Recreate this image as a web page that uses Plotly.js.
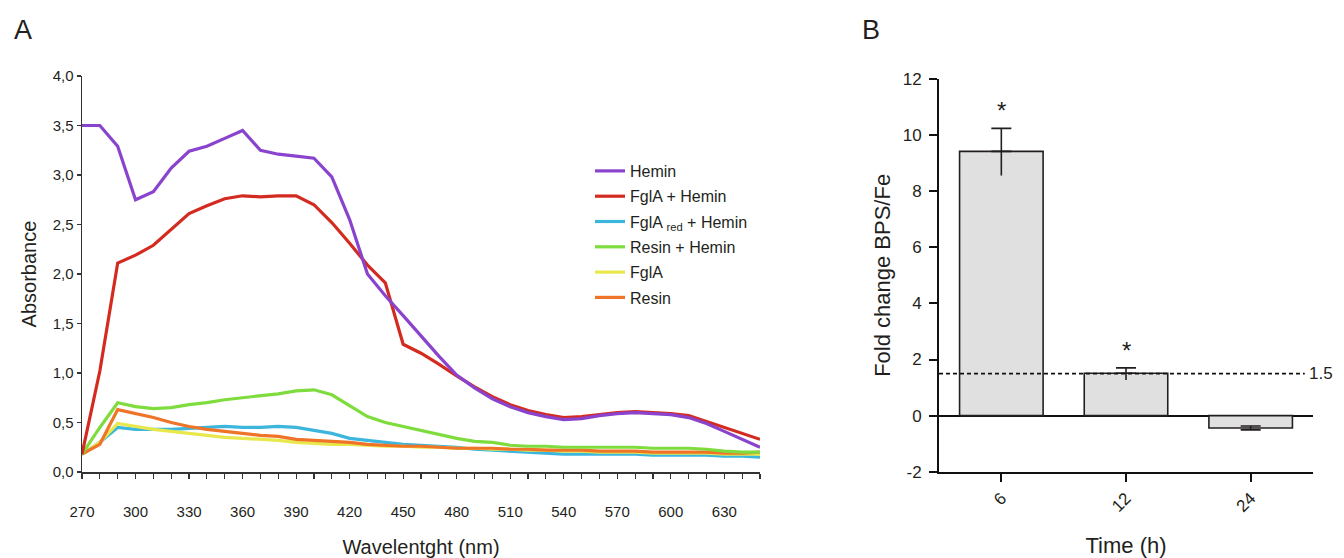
<!DOCTYPE html>
<html>
<head>
<meta charset="utf-8">
<script src="https://cdn.plot.ly/plotly-3.0.1.min.js"></script>
<style>html,body{margin:0;padding:0;background:#fff;}#chart{width:1344px;height:558px;}</style>
</head>
<body>
<div id="chart"></div>
<script>
// ---------- Panel A data ----------
const wavelength = [270,280,290,300,310,320,330,340,350,360,370,380,390,400,410,420,430,440,450,460,470,480,490,500,510,520,530,540,550,560,570,580,590,600,610,620,630,640,650];
const hemin      = [3.50,3.50,3.29,2.75,2.83,3.07,3.24,3.29,3.37,3.45,3.25,3.21,3.19,3.17,2.98,2.55,2.00,1.78,1.58,1.37,1.17,0.98,0.85,0.74,0.66,0.60,0.56,0.53,0.54,0.57,0.59,0.60,0.59,0.58,0.55,0.49,0.41,0.33,0.25];
const fglaHemin  = [0.18,1.02,2.11,2.19,2.29,2.45,2.61,2.69,2.76,2.79,2.78,2.79,2.79,2.70,2.52,2.31,2.09,1.91,1.29,1.20,1.09,0.97,0.86,0.76,0.68,0.62,0.58,0.55,0.56,0.58,0.60,0.61,0.60,0.59,0.57,0.51,0.45,0.39,0.33];
const fglaRedHemin = [0.18,0.30,0.45,0.43,0.43,0.43,0.44,0.45,0.46,0.45,0.45,0.46,0.45,0.42,0.39,0.34,0.32,0.30,0.28,0.27,0.26,0.25,0.23,0.22,0.21,0.20,0.19,0.18,0.18,0.18,0.18,0.18,0.17,0.17,0.17,0.17,0.16,0.16,0.15];
const resinHemin = [0.18,0.45,0.70,0.66,0.64,0.65,0.68,0.70,0.73,0.75,0.77,0.79,0.82,0.83,0.78,0.67,0.56,0.50,0.46,0.42,0.38,0.34,0.31,0.30,0.27,0.26,0.26,0.25,0.25,0.25,0.25,0.25,0.24,0.24,0.24,0.23,0.21,0.20,0.20];
const fgla       = [0.18,0.30,0.49,0.46,0.43,0.41,0.39,0.37,0.35,0.34,0.33,0.32,0.30,0.29,0.28,0.28,0.27,0.26,0.26,0.25,0.25,0.24,0.24,0.23,0.23,0.22,0.22,0.21,0.21,0.20,0.20,0.20,0.19,0.19,0.19,0.19,0.18,0.18,0.18];
const resin      = [0.18,0.28,0.63,0.59,0.55,0.50,0.46,0.43,0.41,0.39,0.37,0.36,0.33,0.32,0.31,0.30,0.28,0.27,0.26,0.26,0.25,0.24,0.24,0.24,0.23,0.23,0.22,0.22,0.22,0.21,0.21,0.21,0.20,0.20,0.20,0.20,0.19,0.19,0.20];
const seriesNames = ['Hemin','FglA + Hemin','FglA <sub>red</sub> + Hemin','Resin + Hemin','FglA','Resin'];

const xTickVals = [270,300,330,360,390,420,450,480,510,540,570,600,630];
const xTickText = ['270','300','330','360','390','420','450','480','510','540','570','600','630'];
const yTickVals = [0,0.5,1,1.5,2,2.5,3,3.5,4];
const yTickText = ['0,0','0,5','1,0','1,5','2,0','2,5','3,0','3,5','4,0'];

// ---------- Panel B data ----------
const times = ['6','12','24'];
const foldChange = [9.42,1.51,-0.44];
const errUpper = [0.82,0.19,0.07];
const errLowerStem = [0.86,0.24,0];
const errLowerCap = [0,0,0.07];
const significance = ['*','*',''];
const threshold = 1.5;
const yTickValsB = [-2,0,2,4,6,8,10,12];
const yTickTextB = ['-2','0','2','4','6','8','10','12'];

const FONT = 'Liberation Sans, Arial, Helvetica, sans-serif';
const TXT = '#231f20';

function line(y, name, color, rank){
  return {type:'scatter', mode:'lines', x: wavelength, y: y, name: name,
    line:{color: color, width: 3.2}, legendrank: rank, legendgroup: 'g'+rank,
    xaxis:'x', yaxis:'y', hoverinfo:'skip'};
}

const traces = [
  line(fglaRedHemin, seriesNames[2], '#3cb6dc', 3),
  line(fgla, seriesNames[4], '#e8e84c', 5),
  line(resin, seriesNames[5], '#ef7427', 6),
  line(resinHemin, seriesNames[3], '#7edc3e', 4),
  line(fglaHemin, seriesNames[1], '#d42b20', 2),
  line(hemin, seriesNames[0], '#8a43cd', 1),
  {type:'bar', x: times, y: foldChange, xaxis:'x2', yaxis:'y2', width: 0.67,
   marker:{color:'#dfe0df', line:{color:'#231f20', width:1.6}},
   error_y:{type:'data', symmetric:false, array: errUpper, arrayminus: errLowerCap, color:'#231f20', thickness:1.6, width:10},
   showlegend:false, hoverinfo:'skip'},
  {type:'scatter', mode:'markers', x: times, y: foldChange, xaxis:'x2', yaxis:'y2',
   marker:{size:1, color:'rgba(0,0,0,0)'},
   error_y:{type:'data', symmetric:false, array:[0,0,0], arrayminus: errLowerStem, color:'#231f20', thickness:1.6, width:0},
   showlegend:false, hoverinfo:'skip'}
];

const annotations = [
  {text:'A', xref:'paper', yref:'paper', x:22.5/1344, y:1-30/558, xanchor:'center', yanchor:'middle', showarrow:false, font:{family:FONT, size:27, color:TXT}},
  {text:'B', xref:'paper', yref:'paper', x:871/1344, y:1-30/558, xanchor:'center', yanchor:'middle', showarrow:false, font:{family:FONT, size:27, color:TXT}},
  {text:String(threshold), xref:'x2 domain', yref:'y2', x:0.985, y:threshold, xanchor:'left', yanchor:'middle', showarrow:false, font:{family:FONT, size:17, color:TXT}}
];
for (let i = 0; i < times.length; i++) {
  if (significance[i]) {
    annotations.push({text: significance[i], xref:'x2', yref:'y2', x: i, y: foldChange[i] + errUpper[i],
      xanchor:'center', yanchor:'bottom', yshift: 2, showarrow:false, font:{family:FONT, size:24, color:TXT}});
  }
}

const layout = {
  width:1344, height:558, margin:{l:0, r:0, t:0, b:0}, paper_bgcolor:'#fff', plot_bgcolor:'rgba(0,0,0,0)',
  font:{family:FONT, color:TXT},
  showlegend:true,
  legend:{x:590/1344, y:1-154/558, xanchor:'left', yanchor:'top', font:{family:FONT, size:16, color:TXT},
          bgcolor:'rgba(0,0,0,0)', tracegroupgap:1.5, traceorder:'grouped'},
  xaxis:{domain:[82/1344, 760/1344], range:[270,650], showgrid:false, zeroline:false, showline:true, linecolor:'#333', linewidth:1.5,
         ticks:'outside', ticklen:5, tickwidth:1.2, tickcolor:'#333', tickmode:'array', tickvals:xTickVals, ticktext:xTickText,
         minor:{tickmode:'linear', tick0:270, dtick:10, ticks:'outside', ticklen:5, tickwidth:1.2, tickcolor:'#333', showgrid:false},
         tickfont:{family:FONT, size:15, color:TXT}, ticklabelstandoff:20,
         title:{text:'Wavelentght (nm)', font:{family:FONT, size:20, color:TXT}, standoff:22}, anchor:'y'},
  yaxis:{domain:[(558-472)/558, (558-76)/558], range:[0,4], showgrid:false, zeroline:false, showline:true, linecolor:'#333', linewidth:1.5,
         ticks:'outside', ticklen:4, tickwidth:1.2, tickcolor:'#333', tickmode:'array', tickvals:yTickVals, ticktext:yTickText,
         tickfont:{family:FONT, size:15, color:TXT},
         title:{text:'Absorbance', font:{family:FONT, size:20, color:TXT}, standoff:10}, anchor:'x'},
  xaxis2:{domain:[939/1344, 1313/1344], range:[-0.5,2.5], type:'category', showgrid:false, zeroline:false, showline:true, linecolor:'#111', linewidth:2,
          ticks:'outside', ticklen:8, tickwidth:2, tickcolor:'#111', tickangle:-45,
          tickfont:{family:FONT, size:17, color:TXT},
          title:{text:'Time (h)', font:{family:FONT, size:22, color:TXT}, standoff:26}, anchor:'y2'},
  yaxis2:{domain:[(558-471.7)/558, (558-79)/558], range:[-2,12], showgrid:false, zeroline:true, zerolinecolor:'#111', zerolinewidth:2,
          showline:true, linecolor:'#111', linewidth:2, ticks:'outside', ticklen:8, tickwidth:2, tickcolor:'#111',
          tickmode:'array', tickvals:yTickValsB, ticktext:yTickTextB, tickfont:{family:FONT, size:17, color:TXT}, ticklabelstandoff:4,
          title:{text:'Fold change BPS/Fe', font:{family:FONT, size:22, color:TXT}, standoff:6}, anchor:'x2'},
  shapes:[{type:'line', xref:'x2 domain', yref:'y2', x0:0, x1:0.978, y0:threshold, y1:threshold, line:{color:'#111', width:1.8, dash:'4px,3px'}}],
  annotations: annotations
};

Plotly.newPlot('chart', traces, layout, {displayModeBar:false, staticPlot:true});
</script>
</body>
</html>
